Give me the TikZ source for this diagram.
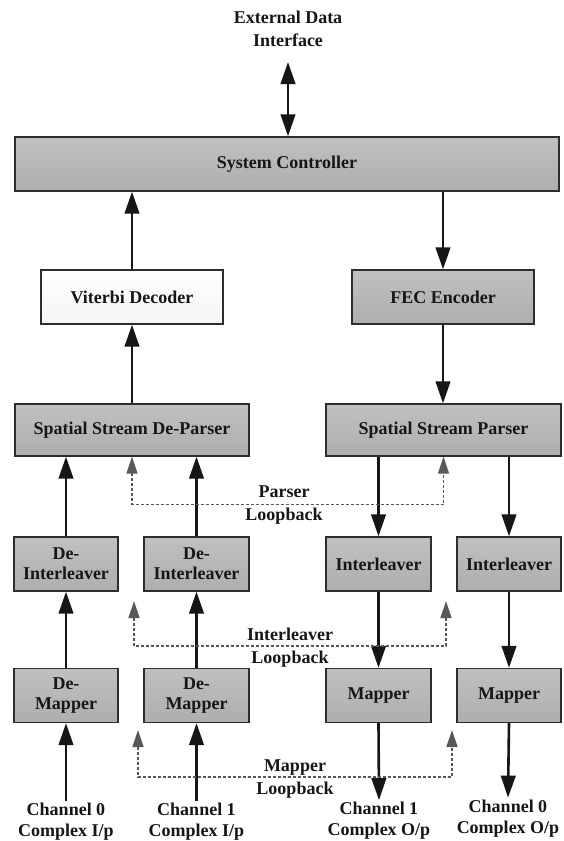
\documentclass[tikz,border=0pt]{standalone}
\usepackage{fontspec}
\setmainfont{Liberation Serif}
\usetikzlibrary{arrows.meta}
\definecolor{boxtop}{RGB}{192,192,192}
\definecolor{boxbot}{RGB}{174,174,174}
\definecolor{edge}{RGB}{45,45,45}
\definecolor{ink}{RGB}{22,22,22}
\definecolor{loopgray}{RGB}{88,88,88}
\begin{document}
\begin{tikzpicture}[x=1pt,y=-1pt,
  txt/.style={font=\fontsize{18}{21}\selectfont\bfseries, text=ink, align=center, inner sep=2pt},
  looptxt/.style={font=\fontsize{18}{23}\selectfont\bfseries, text=ink, align=center, inner sep=2pt},
  block/.style={draw=edge, line width=1.3pt, top color=boxtop, bottom color=boxbot,
    minimum height=54pt, inner sep=0pt, font=\fontsize{18}{20}\selectfont\bfseries,
    text=ink, align=center},
  flow/.style={line width=2.6pt, draw=ink, -{Triangle[length=22pt,width=14.5pt]}},
  both/.style={line width=2.6pt, draw=ink,
    {Triangle[length=22pt,width=14.5pt]}-{Triangle[length=22pt,width=14.5pt]}},
  loop/.style={draw=loopgray, line width=1.4pt, dash pattern=on 3pt off 2pt,
    {Triangle[length=17pt,width=11pt]}-{Triangle[length=17pt,width=11pt]}}
]
\useasboundingbox (0,0) rectangle (564,841);
\fill[white] (0,0) rectangle (564,841);

% controller and coding blocks
\node[block, minimum width=544pt] (sc) at (287,164) {System Controller};
\node[block, minimum width=182pt, top color=white, bottom color=gray!8] (vit) at (132,297) {Viterbi Decoder};
\node[block, minimum width=182pt] (fec) at (443,297) {FEC Encoder};
\node[block, minimum width=234pt, minimum height=52pt] (dep) at (132,430) {Spatial Stream De-Parser};
\node[block, minimum width=235pt, minimum height=52pt] (par) at (443.5,430) {Spatial Stream Parser};

% per-stream blocks
\node[block, minimum width=104pt] (dei1) at (66,564) {De-\\Interleaver};
\node[block, minimum width=105pt] (dei2) at (196.5,564) {De-\\Interleaver};
\node[block, minimum width=105pt] (int1) at (378.5,564) {Interleaver};
\node[block, minimum width=104pt] (int2) at (509,564) {Interleaver};
\node[block, minimum width=104pt] (dem1) at (66,695.5) {De-\\Mapper};
\node[block, minimum width=105pt] (dem2) at (196.5,695.5) {De-\\Mapper};
\node[block, minimum width=105pt] (map1) at (378.5,695.5) {Mapper};
\node[block, minimum width=104pt] (map2) at (509,695.5) {Mapper};

% external labels
\node[looptxt] (ext) at (288,29) {External Data\\Interface};
\node[txt] (ci0) at (66,821.5) {Channel 0\\Complex I/p};
\node[txt] (ci1) at (196.5,821.5) {Channel 1\\Complex I/p};
\node[txt] (co1) at (379,821) {Channel 1\\Complex O/p};
\node[txt] (co0) at (508,818.5) {Channel 0\\Complex O/p};

% loopback labels
\node[looptxt] (plb) at (284,505) {Parser\\Loopback};
\node[looptxt] (ilb) at (290,647.5) {Interleaver\\Loopback};
\node[looptxt] (mlb) at (295,779) {Mapper\\Loopback};

% loopback path ends
\coordinate (ilbL) at (134,601);
\coordinate (ilbR) at (446,601);
\coordinate (mlbL) at (138,730);
\coordinate (mlbR) at (452,730);

% data flow
\draw[both, shorten <=13pt] (ext.south) -- (ext.south |- sc.north);
\draw[flow] (vit.north) -- (vit.north |- sc.south);
\draw[flow] (sc.south -| fec.north) -- (fec.north);
\draw[flow] (dep.north) -- (vit.south);
\draw[flow] (fec.south) -- (fec.south |- par.north);
\draw[flow] (dei1.north) -- (dei1.north |- dep.south);
\draw[flow] (dei2.north) -- (dei2.north |- dep.south);
\draw[flow] (int1.north |- par.south) -- (int1.north);
\draw[flow] (int2.north |- par.south) -- (int2.north);
\draw[flow] (dem1.north) -- (dei1.south);
\draw[flow] (dem2.north) -- (dei2.south);
\draw[flow] (int1.south) -- (map1.north);
\draw[flow] (int2.south) -- (map2.north);
\draw[flow] (ci0.north) -- (dem1.south);
\draw[flow] (ci1.north) -- (dem2.south);
\draw[flow] (map1.south) -- (co1.north);
\draw[flow] (map2.south) -- (co0.north);

% loopbacks
\draw[loop] (dep.south) -- ++(0,48) -| (par.south);
\draw[loop] (ilbL) -- ++(0,45) -| (ilbR);
\draw[loop] (mlbL) -- ++(0,47) -| (mlbR);
\end{tikzpicture}
\end{document}
